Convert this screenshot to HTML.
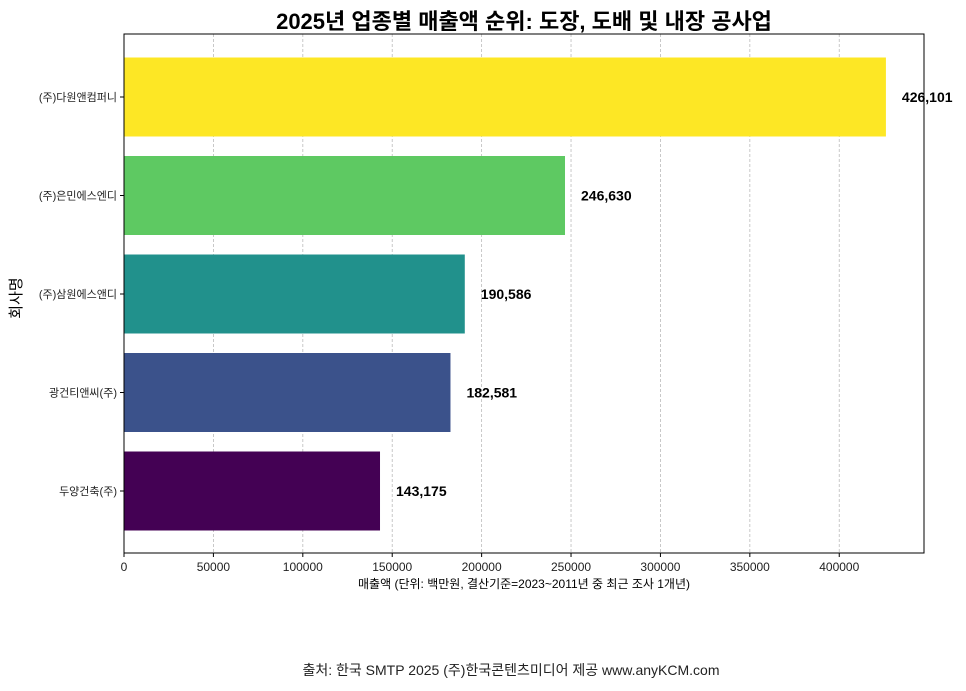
<!DOCTYPE html>
<html><head><meta charset="utf-8">
<style>
body{margin:0;background:#fff;width:966px;height:686px;overflow:hidden;font-family:"Liberation Sans","Noto Sans CJK KR",sans-serif;}
</style></head>
<body>
<svg id="chart" width="966" height="686" style="font-family:'Liberation Sans','Noto Sans CJK KR',sans-serif">
<text x="524" y="29" text-anchor="middle" font-size="22" font-weight="bold">2025년 업종별 매출액 순위: 도장, 도배 및 내장 공사업</text>
<g id="grid"></g><g id="bars"></g><g id="xticks"></g><g id="yticks"></g>
<rect x="124" y="34" width="800" height="519" fill="none" stroke="#000" stroke-width="1"/>
<text x="524" y="588" text-anchor="middle" font-size="12">매출액 (단위: 백만원, 결산기준=2023~2011년 중 최근 조사 1개년)</text>
<text transform="translate(21,298) rotate(-90)" text-anchor="middle" font-size="15">회사명</text>
<text x="511" y="675" text-anchor="middle" font-size="14" fill="#222">출처: 한국 SMTP 2025  (주)한국콘텐츠미디어 제공  www.anyKCM.com</text>
</svg>
<script>
const categories=["(주)다원앤컴퍼니","(주)은민에스엔디","(주)삼원에스앤디","광건티앤씨(주)","두양건축(주)"];
const values=[426101,246630,190586,182581,143175];
const valueLabels=["426,101","246,630","190,586","182,581","143,175"];
const colors=["#fde725","#5ec962","#21918c","#3b528b","#440154"];
const xTicks=[0,50000,100000,150000,200000,250000,300000,350000,400000];
const NS="http://www.w3.org/2000/svg";
const L=124,R=924,T=34,B=553,xMax=447400;
const x=v=>L+(v/xMax)*(R-L);
const band=98.5,bh=79,y0=97;
const y=i=>y0+i*band;
function mk(t,a,p){const e=document.createElementNS(NS,t);for(const k in a)e.setAttribute(k,a[k]);p.appendChild(e);return e;}
const g=document.getElementById('grid'),bg=document.getElementById('bars'),xt=document.getElementById('xticks'),yt=document.getElementById('yticks');
xTicks.forEach(v=>{
 const ln=mk('line',{x1:x(v),x2:x(v),y1:T,y2:B,stroke:'#bbb','stroke-width':0.8,'stroke-dasharray':'3,2'},g);
 
 
 const tk=mk('line',{x1:x(v),x2:x(v),y1:B,y2:B+4,stroke:'#000'},xt);
 
 
 const tx=mk('text',{x:x(v),y:B+18,'text-anchor':'middle','font-size':12,fill:'#222'},xt);
 tx.textContent=v;
 
 
});
values.forEach((v,i)=>{
 const r=mk('rect',{x:L,y:y(i)-bh/2,width:x(v)-L,height:bh,fill:colors[i]},bg);
 
 
 const t=mk('text',{x:x(v)+16,y:y(i)+5,'font-size':14,'font-weight':'bold'},bg);
 t.textContent=valueLabels[i];
 
 
 const tk=mk('line',{x1:L-4,x2:L,y1:y(i),y2:y(i),stroke:'#000'},yt);
 
 
 const c=mk('text',{x:L-7,y:y(i)+4,'text-anchor':'end','font-size':11,fill:'#222'},yt);
 c.textContent=categories[i];
 
 
});
</script>
</body></html>
